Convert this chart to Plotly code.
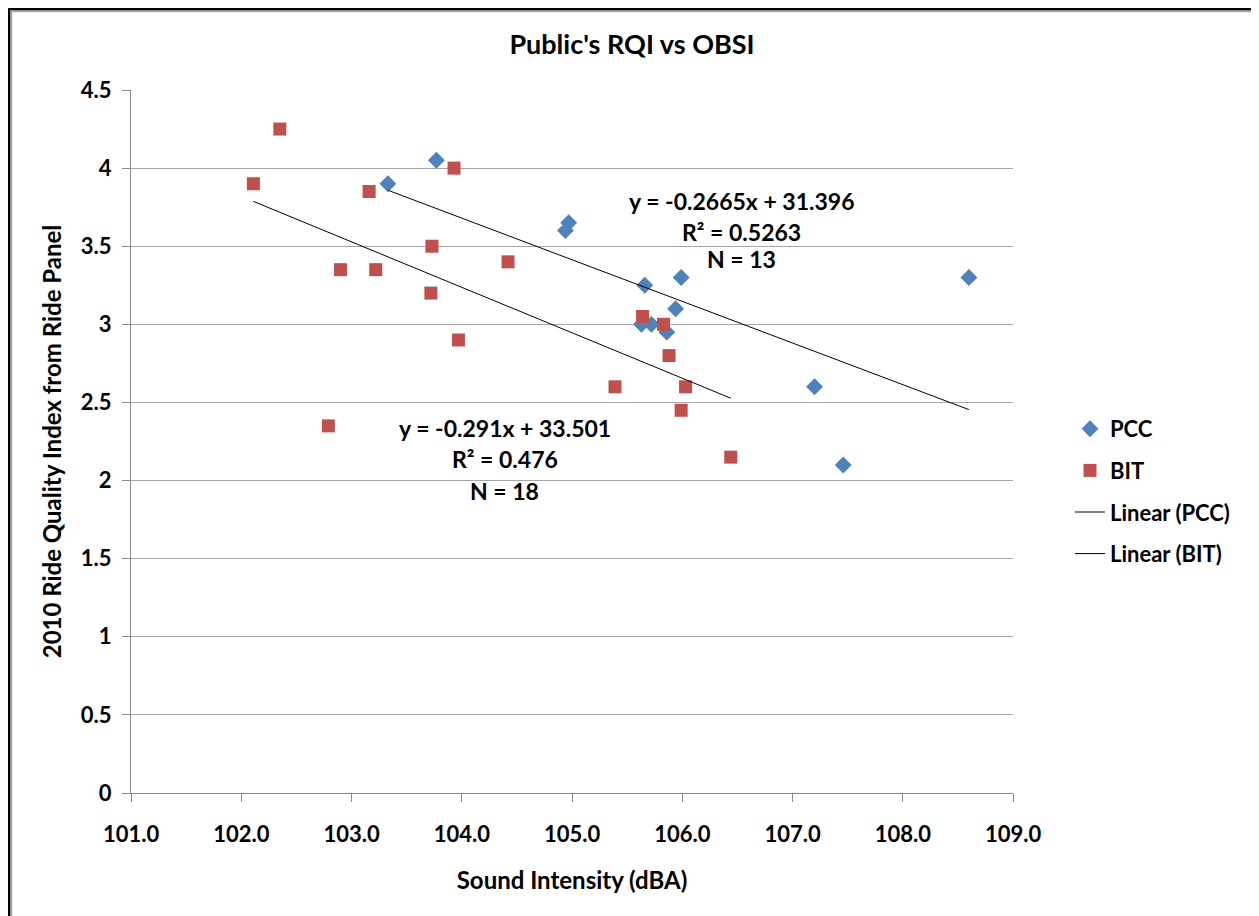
import plotly.graph_objects as go

pcc_x = [103.33, 103.77, 104.94, 104.97, 105.66, 105.99, 105.94, 105.63, 105.72, 105.86, 107.20, 107.46, 108.60]
pcc_y = [3.90, 4.05, 3.60, 3.65, 3.25, 3.30, 3.10, 3.00, 3.00, 2.95, 2.60, 2.10, 3.30]

bit_x = [102.11, 102.35, 103.16, 102.90, 103.22, 103.73, 103.72, 103.93, 103.97, 104.42,
         102.79, 105.39, 105.64, 105.83, 105.88, 106.03, 105.99, 106.44]
bit_y = [3.90, 4.25, 3.85, 3.35, 3.35, 3.50, 3.20, 4.00, 2.90, 3.40,
         2.35, 2.60, 3.05, 3.00, 2.80, 2.60, 2.45, 2.15]

pcc_fit = (-0.2665, 31.396, 0.5263)
bit_fit = (-0.291, 33.501, 0.476)

FONT = "Lato"
BLUE = "#4F81BD"
RED = "#C0504D"

fig = go.Figure()
fig.add_trace(go.Scatter(x=pcc_x, y=pcc_y, mode="markers", name="PCC", legendgroup="a",
                         marker=dict(symbol="diamond", size=13, color=BLUE)))
fig.add_trace(go.Scatter(x=bit_x, y=bit_y, mode="markers", name="BIT", legendgroup="b",
                         marker=dict(symbol="square", size=13, color=RED)))

def line(xs, fit):
    x0, x1 = min(xs), max(xs)
    return [x0, x1], [fit[0] * x0 + fit[1], fit[0] * x1 + fit[1]]

lx, ly = line(pcc_x, pcc_fit)
fig.add_trace(go.Scatter(x=lx, y=ly, mode="lines", name="Linear (PCC)", legendgroup="c",
                         line=dict(color="#000000", width=1)))
lx, ly = line(bit_x, bit_fit)
fig.add_trace(go.Scatter(x=lx, y=ly, mode="lines", name="Linear (BIT)", legendgroup="d",
                         line=dict(color="#000000", width=1)))

def ann(x, y, text):
    fig.add_annotation(x=x, y=y, text=text, showarrow=False, xref="x", yref="y",
                       font=dict(family=FONT, size=23, color="#000000", weight="bold"))

ann(106.54, 3.79, "y = -0.2665x + 31.396")
ann(106.54, 3.59, "R² = 0.5263")
ann(106.54, 3.42, "N = 13")
ann(104.39, 2.337, "y = -0.291x + 33.501")
ann(104.39, 2.138, "R² = 0.476")
ann(104.39, 1.933, "N = 18")

# frame lines (paper coords derived from page pixel positions)
def px(x):
    return (x - 131) / 882

def py(y):
    return (793 - y) / 703

def frame_line(x0, y0, x1, y1, color, width):
    fig.add_shape(type="line", xref="paper", yref="paper",
                  x0=px(x0), y0=py(y0), x1=px(x1), y1=py(y1),
                  line=dict(color=color, width=width), layer="below")

GRAY = "#A8A8A8"
frame_line(0, 9, 1259, 9, "#000000", 3)
frame_line(9, 0, 9, 916, "#000000", 3)
frame_line(10, 11.5, 1257, 11.5, GRAY, 1.5)
frame_line(11.5, 10, 11.5, 916, GRAY, 1.5)
frame_line(1256, 10, 1256, 916, GRAY, 2.5)

fig.update_layout(
    width=1251, height=908,
    margin=dict(l=123, r=246, t=82, b=123),
    paper_bgcolor="white", plot_bgcolor="white",
    font=dict(family=FONT, color="#000000"),
    title=dict(text="Public's RQI vs OBSI", x=(632 - 8) / 1251, xanchor="center",
               y=1 - (45 - 8) / 908, yanchor="middle",
               font=dict(family=FONT, size=27, weight="bold")),
    showlegend=True,
    legend=dict(x=(1070 - 131) / 882, y=(793 - 408) / 703, xanchor="left", yanchor="top",
                font=dict(family=FONT, size=22, weight="bold"), tracegroupgap=10,
                bgcolor="rgba(0,0,0,0)"),
    xaxis=dict(range=[101, 109], dtick=1, tick0=101, tickformat=".1f",
               showgrid=False, zeroline=False, showline=True, linecolor="#888888",
               ticks="outside", ticklen=8, tickcolor="#888888", ticklabelstandoff=14,
               tickfont=dict(family=FONT, size=22, weight="bold"),
               title=dict(text="Sound Intensity (dBA)",
                          font=dict(family=FONT, size=24, weight="bold"), standoff=25)),
    yaxis=dict(range=[0, 4.5], dtick=0.5, showgrid=True, gridcolor="#A6A6A6", gridwidth=1,
               zeroline=False, showline=True, linecolor="#888888",
               ticks="outside", ticklen=8, tickcolor="#888888", ticklabelstandoff=6,
               tickfont=dict(family=FONT, size=22, weight="bold"),
               title=dict(text="2010 Ride Quality Index from Ride Panel",
                          font=dict(family=FONT, size=24, weight="bold"), standoff=12)),
)

fig.write_html("out.html")
